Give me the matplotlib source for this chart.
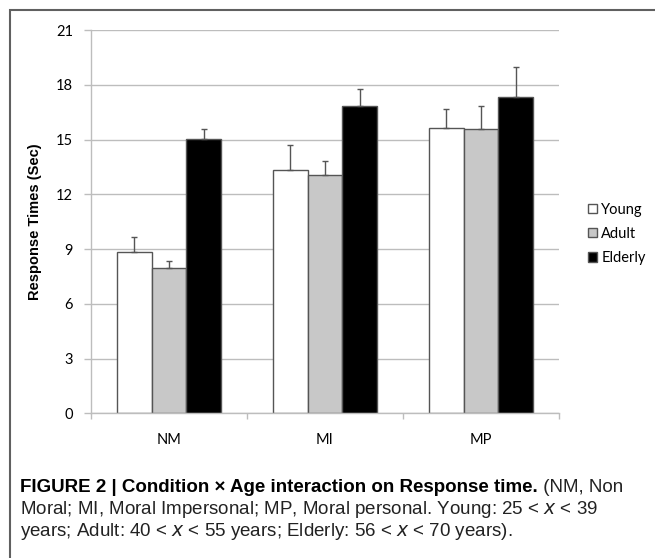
import numpy as np
import matplotlib
matplotlib.use('Agg')
import matplotlib.pyplot as plt
from matplotlib.patches import Rectangle

#==============================================================================
#DATA
#==============================================================================

conditions = ['NM', 'MI', 'MP']
groups = ['Young', 'Adult', 'Elderly']

young_mean = [8.82, 13.35, 15.65]
adult_mean = [7.98, 13.04, 15.60]
elderly_mean = [15.01, 16.85, 17.31]

young_err = [0.86, 1.33, 1.03]
adult_err = [0.38, 0.80, 1.25]
elderly_err = [0.57, 0.90, 1.67]

yticks = [0, 3, 6, 9, 12, 15, 18, 21]

caption_bold = 'FIGURE 2 | Condition \u00d7 Age interaction on Response time.'
caption_1 = ' (NM, Non'
caption_2 = 'Moral; MI, Moral Impersonal; MP, Moral personal. Young: 25 < $x$ < 39'
caption_3 = 'years; Adult: 40 < $x$ < 55 years; Elderly: 56 < $x$ < 70 years).'

#==============================================================================
#SETTINGS
#==============================================================================

W, H = 655, 558
tick_font = ['Lato', 'DejaVu Sans']
cap_font = ['Liberation Sans Narrow', 'Liberation Sans', 'DejaVu Sans']
cap_size = 13.5
bar_w = 0.224
colors = ['white', '#c8c8c8', 'black']
grid_col = '#bdbdbd'

#==============================================================================
#PLOT
#==============================================================================

f = plt.figure(figsize=(W/100, H/100), dpi=100)
ax = f.add_axes([91/W, 1-413.3/H, (559-91)/W, (413.3-30)/H])

x = np.arange(len(conditions))
means = [young_mean, adult_mean, elderly_mean]
errs = [young_err, adult_err, elderly_err]
for i, (m, e, c, g) in enumerate(zip(means, errs, colors, groups)):
    pos = x + (i-1)*bar_w
    ax.bar(pos, m, bar_w, color=c, edgecolor='#555555', linewidth=1.0, label=g, zorder=2)
    ax.errorbar(pos, m, yerr=[np.zeros(len(e)), e], fmt='none', ecolor='#555555',
                elinewidth=1.0, capsize=2.5, capthick=1.0, zorder=3)

ax.set_xlim(-0.5, 2.5)
ax.set_ylim(0, 21)
ax.set_yticks(yticks)
ax.set_yticklabels([str(v) for v in yticks], family=tick_font, fontsize=10.5)
ax.set_xticks(x)
ax.set_xticklabels(conditions, family=tick_font, fontsize=10.5)
ax.set_xticks([-0.5, 0.5, 1.5, 2.5], minor=True)
ax.tick_params(axis='x', which='major', length=0, pad=14)
ax.tick_params(axis='x', which='minor', length=4, color=grid_col, width=1)
ax.tick_params(axis='y', length=5, color=grid_col, width=1, pad=8)
for s in ['top', 'right']:
    ax.spines[s].set_visible(False)
for s in ['left', 'bottom']:
    ax.spines[s].set_color(grid_col)
    ax.spines[s].set_linewidth(1.0)
ax.yaxis.grid(color=grid_col, linewidth=1.0, zorder=0)
ax.set_axisbelow(True)
ax.set_ylabel('Response Times (Sec)', family=['Liberation Sans', 'DejaVu Sans'],
              fontweight='bold', fontsize=10.5, labelpad=10)

handles, labels = ax.get_legend_handles_labels()
leg = f.legend(handles, labels, loc='center left', bbox_to_anchor=(575/W, 1-234/H),
               frameon=False, handlelength=0.6, handleheight=0.6, handletextpad=0.3,
               labelspacing=0.7, prop={'family': tick_font, 'size': 10.5})

#outer frame
f.patches.append(Rectangle((10/W, -0.1), 1.0, 1.1-10/H, transform=f.transFigure,
                           fill=False, edgecolor='#606060', linewidth=1.5))

#caption
t = f.text(20/W, 1-488/H, caption_bold, family=cap_font, fontweight='bold',
           fontsize=cap_size, va='center', ha='left')
f.canvas.draw()
bb = t.get_window_extent()
f.text(bb.x1/W, 1-488/H, caption_1, family=cap_font, fontsize=cap_size, va='center',
       ha='left', color='#222222')
f.text(20/W, 1-510/H, caption_2, family=cap_font, fontsize=cap_size, va='center',
       ha='left', color='#222222')
f.text(20/W, 1-532/H, caption_3, family=cap_font, fontsize=cap_size, va='center',
       ha='left', color='#222222')

f.savefig('out.png', dpi=100)
